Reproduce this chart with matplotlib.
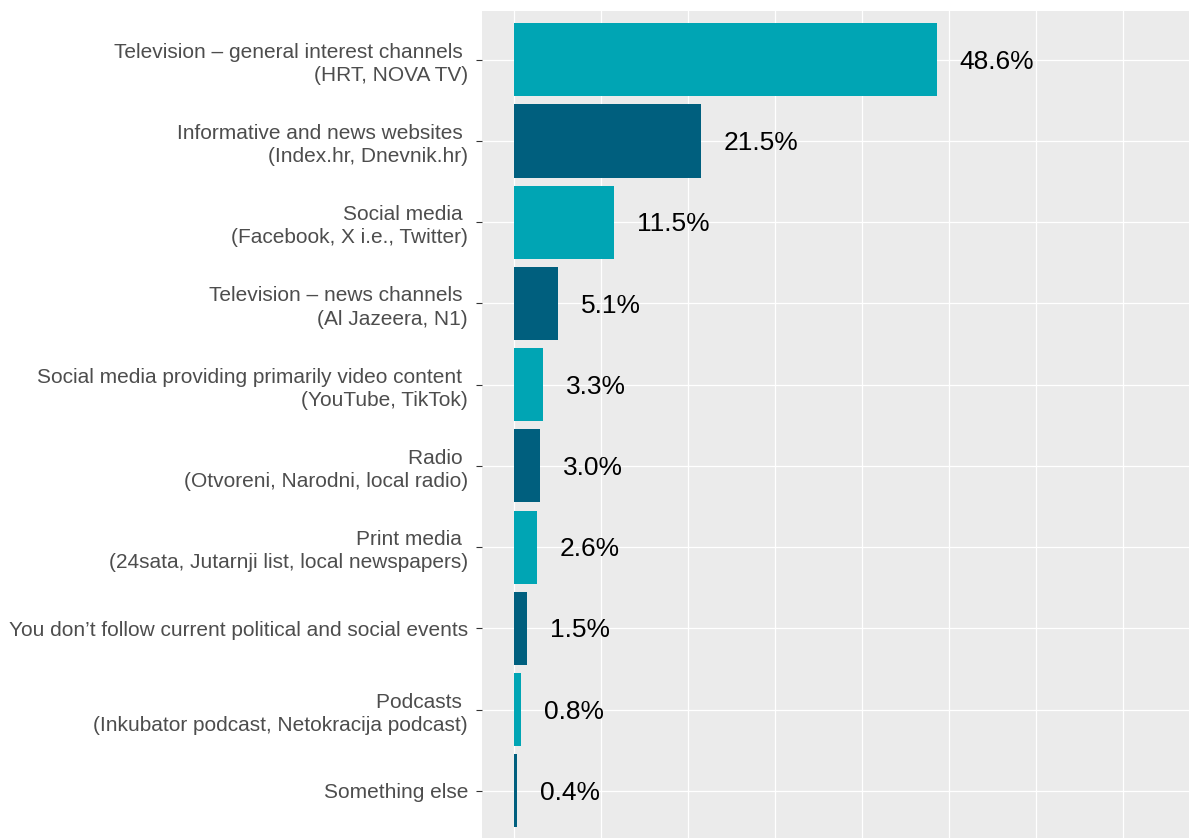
import matplotlib
matplotlib.use('Agg')
import matplotlib.pyplot as plt

plt.rcParams['font.family'] = ['Liberation Sans', 'DejaVu Sans']

labels = [
    'Television \u2013 general interest channels \n(HRT, NOVA TV)',
    'Informative and news websites \n(Index.hr, Dnevnik.hr)',
    'Social media \n(Facebook, X i.e., Twitter)',
    'Television \u2013 news channels \n(Al Jazeera, N1)',
    'Social media providing primarily video content \n(YouTube, TikTok)',
    'Radio \n(Otvoreni, Narodni, local radio)',
    'Print media \n(24sata, Jutarnji list, local newspapers)',
    'You don\u2019t follow current political and social events',
    'Podcasts \n(Inkubator podcast, Netokracija podcast)',
    'Something else',
]
values = [48.6, 21.5, 11.5, 5.1, 3.3, 3.0, 2.6, 1.5, 0.8, 0.4]
colors = ['#00A5B4', '#005F7E'] * 5

fig = plt.figure(figsize=(11.89, 8.38), dpi=100)
ax = fig.add_axes([482 / 1189, 0, 1 - 482 / 1189, (838 - 11) / 838])
ax.set_facecolor('#EBEBEB')

ypos = list(range(len(labels)))
ax.barh(ypos, values, height=0.9, color=colors, zorder=2)

# value labels to the right of each bar
for y, v in zip(ypos, values):
    ax.annotate(f'{v:.1f}%', xy=(v, y), xytext=(16.5, -1.5), textcoords='offset points',
                ha='left', va='center', fontsize=19, color='black', zorder=3)

ax.set_xlim(-3.68, 77.6)
ax.set_ylim(9.58, -0.6)
ax.set_xticks(range(0, 80, 10))
ax.set_xticklabels([])
ax.tick_params(axis='x', length=0)
ax.set_yticks(ypos)
ax.set_yticklabels(labels, fontsize=15, color='#4D4D4D', linespacing=1.28)
ax.tick_params(axis='y', length=4, width=0.8, color='#333333', pad=6)
ax.grid(True, color='white', linewidth=0.9, zorder=1)
ax.set_axisbelow(True)
for s in ax.spines.values():
    s.set_visible(False)

fig.savefig('out.png', dpi=100)
